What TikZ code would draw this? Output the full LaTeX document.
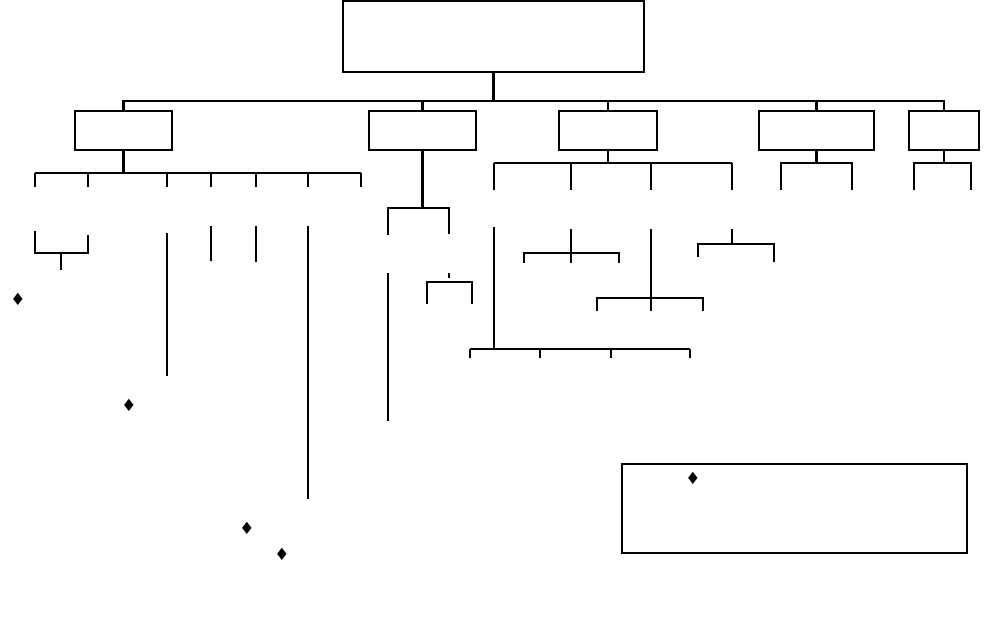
\documentclass[tikz,border=0pt]{standalone}
\usepackage{fontspec}
\newfontfamily\symfont{DejaVu Sans}
\usetikzlibrary{positioning}

\begin{document}
\begin{tikzpicture}[x=0.025cm,y=-0.025cm,line width=1.6pt,unit/.style={draw,inner sep=0pt,minimum height=0.975cm},thinlink/.style={line width=0.9pt},glyph/.style={font=\symfont\fontsize{12}{12}\selectfont,inner sep=0pt}]
\useasboundingbox (0,0) rectangle (997,641);
% boxes
\node[unit,minimum width=7.525cm,minimum height=1.775cm] (top) at (493.5,36.5){};
\node[unit,minimum width=2.425cm] (a) at (123.5,130.5){};
\node[unit,minimum width=2.675cm] (b) at (422.5,130.5){};
\node[unit,minimum width=2.45cm] (c) at (608,130.5){};
\node[unit,minimum width=2.875cm] (d) at (816.5,130.5){};
\node[unit,minimum width=1.75cm] (e) at (944,130.5){};
\node[unit,minimum width=8.625cm,minimum height=2.225cm] (note) at (794.5,508.5){};
% top level
\coordinate (bus) at (494,101);
\draw (top.south) -- (top.south |- bus);
\draw (a.north) |- (bus) -| (e.north);
\foreach \n in {b,c,d} \draw (\n.north) -- (\n.north |- bus);
% under a
\coordinate (abus) at (123,173);
\draw (a.south) -- (a.south |- abus);
\draw (35,173) -- (361,173);
\foreach \x in {35,88,167,211,256,308,361} \draw (\x,173) -- (\x,187);
\draw (35,231) -- (35,253) -- (88,253) -- (88,235);
\draw (61,253) -- (61,270);
\draw (167,233) -- (167,376);
\draw (211,226) -- (211,261);
\draw (256,226) -- (256,262);
\draw (308,226) -- (308,499);
% under b
\coordinate (bbus) at (423,208);
\draw (b.south) -- (b.south |- bbus);
\draw[thinlink] (388,235) -- (388,208) -- (449,208) -- (449,234);
\draw (388,273) -- (388,421);
\draw[thinlink] (449,273) -- (449,278);
\draw (427,304) -- (427,282) -- (472,282) -- (472,304);
% under c
\coordinate (cbus) at (608,163);
\draw (c.south) -- (c.south |- cbus);
\draw (494,163) -- (732,163);
\foreach \x in {494,571,651,732} \draw (\x,163) -- (\x,190);
\draw (494,227) -- (494,349);
\draw (470,349) -- (690,349);
\foreach \x in {470,540,611,690} \draw (\x,349) -- (\x,358);
\draw (571,229) -- (571,263);
\draw (524,263) -- (524,253) -- (619,253) -- (619,263);
\draw (651,229) -- (651,311);
\draw (597,311) -- (597,298) -- (703,298) -- (703,311);
\draw (732,229) -- (732,244);
\draw (698,257) -- (698,244) -- (774,244) -- (774,262);
% under d and e
\draw (d.south) -- (d.south |- cbus);
\draw (781,190) -- (781,163) -- (852,163) -- (852,190);
\draw (e.south) -- (e.south |- cbus);
\draw (914,190) -- (914,163) -- (971,163) -- (971,190);
% markers
\node[glyph] (m1) at (18,299){♦};
\node[glyph] (m2) at (129,405){♦};
\node[glyph] (m3) at (247,528){♦};
\node[glyph] (m4) at (282,554){♦};
\node[glyph] (m5) at (693,478){♦};
\end{tikzpicture}
\end{document}
